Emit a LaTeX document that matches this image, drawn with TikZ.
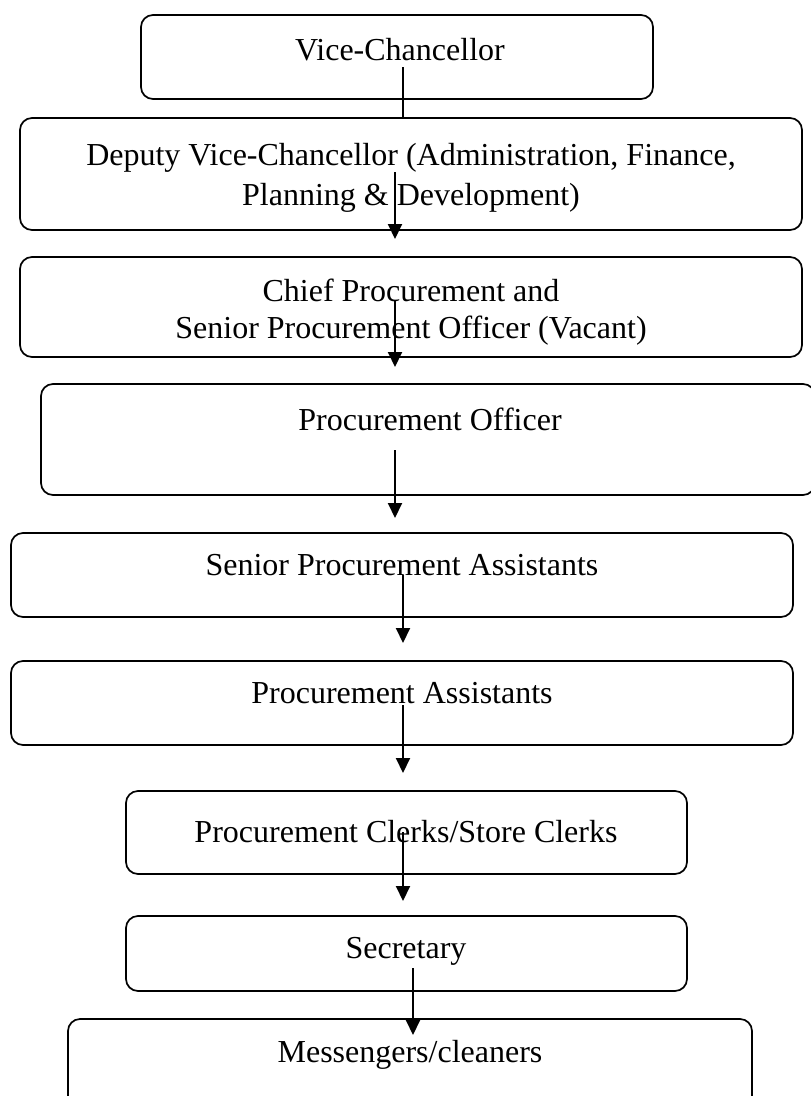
\documentclass[tikz,border=0pt]{standalone}
\usepackage{fontspec}
\setmainfont{Liberation Serif}
\usetikzlibrary{arrows.meta}
\begin{document}
\begin{tikzpicture}[x=1pt,y=-1pt,
  post/.style={draw=black, line width=1.7pt, rounded corners=12pt,
    inner sep=0pt, outer sep=0pt, anchor=north west},
  lbl/.style={font=\fontsize{32}{37}\selectfont, anchor=base, inner sep=0pt},
  link/.style={line width=2pt},
  arr/.style={line width=2pt, -{Triangle[width=14pt,length=15pt]}}]
\useasboundingbox (0,0) rectangle (811,1096);

% posts in the reporting line
\node[post, minimum width=512pt, minimum height=84pt]  (vc)  at (141,15)   {};
\node[post, minimum width=782pt, minimum height=112pt] (dvc) at (20,118)   {};
\node[post, minimum width=782pt, minimum height=100pt] (cpo) at (20,257)   {};
\node[post, minimum width=774pt, minimum height=111pt] (po)  at (41,384)   {};
\node[post, minimum width=782pt, minimum height=84pt]  (spa) at (11,533)   {};
\node[post, minimum width=782pt, minimum height=84pt]  (pa)  at (11,661)   {};
\node[post, minimum width=561pt, minimum height=83pt]  (clk) at (126,791)  {};
\node[post, minimum width=561pt, minimum height=75pt]  (sec) at (126,916)  {};
\node[post, minimum width=684pt, minimum height=100pt] (msg) at (68,1019)  {};

% titles
\node[lbl] (tvc)   at (400,60)   {Vice-Chancellor};
\node[lbl] (tdvc1) at (411,165)  {Deputy Vice-Chancellor (Administration, Finance,};
\node[lbl] (tdvc2) at (411,205)  {Planning \& Development)};
\node[lbl] (tcpo1) at (411,301)  {Chief Procurement and};
\node[lbl] (tcpo2) at (411,338)  {Senior Procurement Officer (Vacant)};
\node[lbl] (tpo)   at (430,430)  {Procurement Officer};
\node[lbl] (tspa)  at (402,575)  {Senior Procurement Assistants};
\node[lbl] (tpa)   at (402,703)  {Procurement Assistants};
\node[lbl] (tclk)  at (406,842)  {Procurement Clerks/Store Clerks};
\node[lbl] (tsec)  at (406,958)  {Secretary};
\node[lbl] (tmsg)  at (410,1062) {Messengers/cleaners};

% connector ends
\coordinate (c0s) at (403,67);  \coordinate (c0e) at (403,118);
\coordinate (c1s) at (395,172); \coordinate (c1e) at (395,239);
\coordinate (c2s) at (395,300); \coordinate (c2e) at (395,367);
\coordinate (c3s) at (395,450); \coordinate (c3e) at (395,518);
\coordinate (c4s) at (403,575); \coordinate (c4e) at (403,643);
\coordinate (c5s) at (403,705); \coordinate (c5e) at (403,773);
\coordinate (c6s) at (403,832); \coordinate (c6e) at (403,901);
\coordinate (c7s) at (413,968); \coordinate (c7e) at (413,1035);

\draw[link] (c0s) -- (c0e);
\draw[arr] (c1s) -- (c1e);
\draw[arr] (c2s) -- (c2e);
\draw[arr] (c3s) -- (c3e);
\draw[arr] (c4s) -- (c4e);
\draw[arr] (c5s) -- (c5e);
\draw[arr] (c6s) -- (c6e);
\draw[arr] (c7s) -- (c7e);
\end{tikzpicture}
\end{document}
